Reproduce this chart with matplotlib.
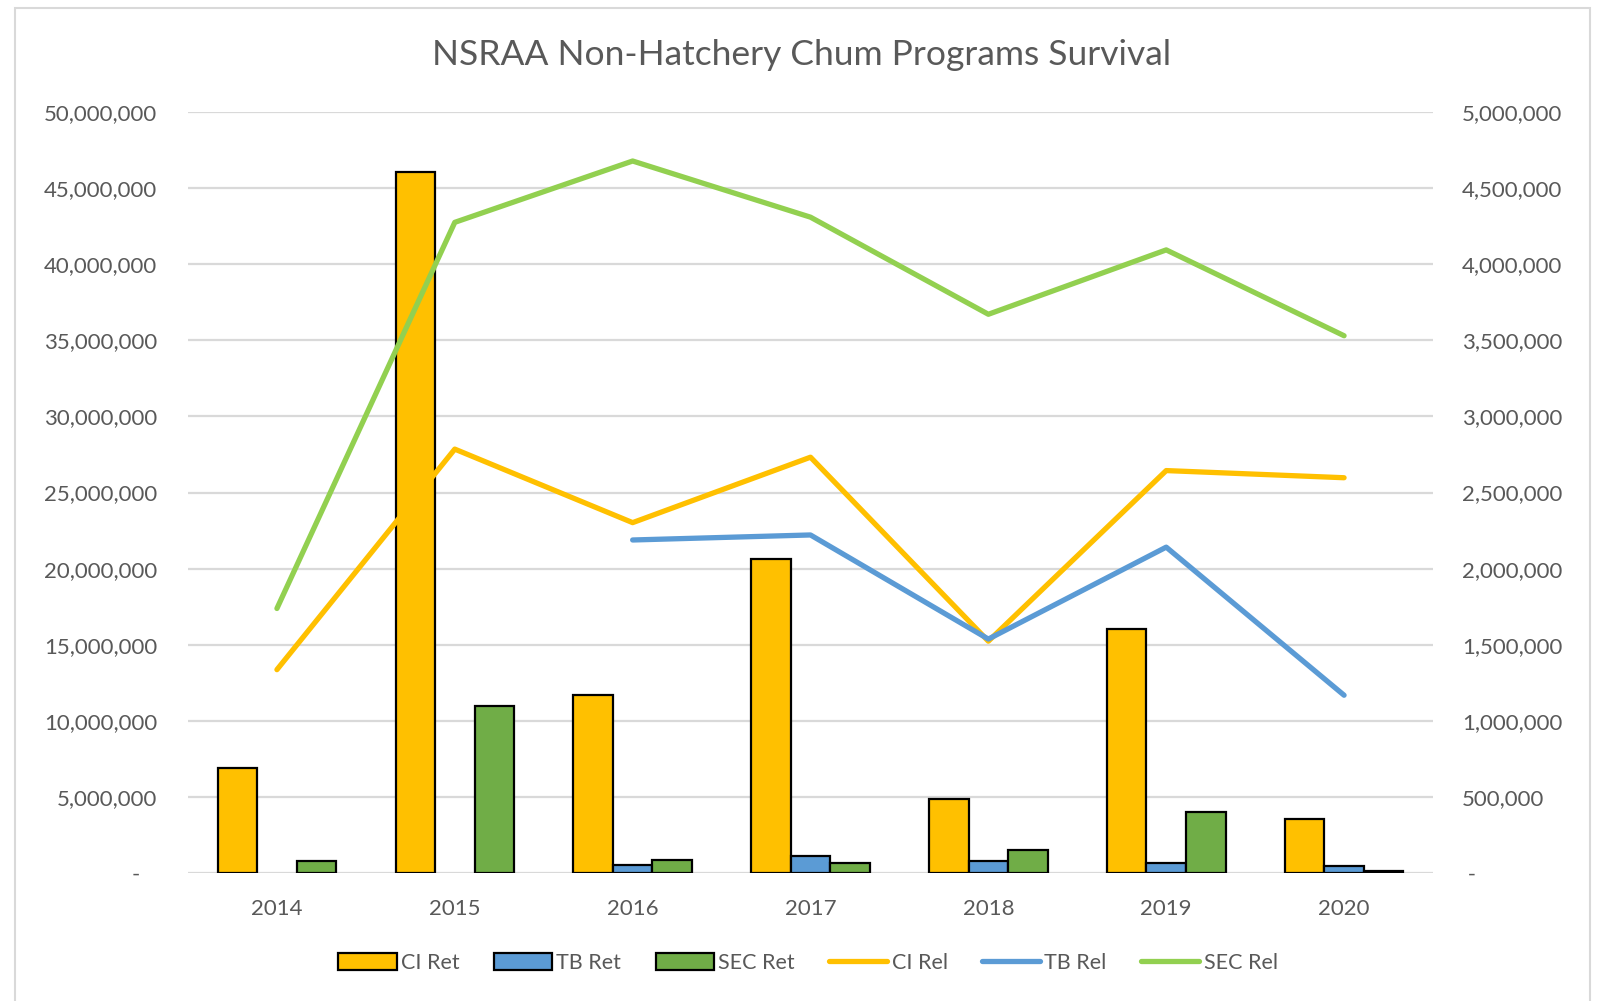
import matplotlib
matplotlib.use("Agg")
import matplotlib.pyplot as plt
from matplotlib.patches import Rectangle
from matplotlib.lines import Line2D
from matplotlib.ticker import FuncFormatter, MultipleLocator
import numpy as np

plt.rcParams['font.family'] = ['Lato', 'DejaVu Sans']

years = ['2014', '2015', '2016', '2017', '2018', '2019', '2020']

# returns (right axis)
ci_ret = [691000, 4604000, 1168000, 2060000, 483000, 1604000, 356000]
tb_ret = [np.nan, np.nan, 54000, 114000, 80000, 67000, 47000]
sec_ret = [80000, 1100000, 87000, 67000, 154000, 403000, 13000]

# releases (left axis)
ci_rel = [13360000, 27850000, 23020000, 27320000, 15230000, 26440000, 25970000]
tb_rel = [np.nan, np.nan, 21880000, 22210000, 15370000, 21410000, 11680000]
sec_rel = [17380000, 42750000, 46780000, 43090000, 36710000, 40940000, 35300000]

yellow = '#FFC000'
blue = '#5B9BD5'
green_bar = '#70AD47'
green_line = '#92D050'
grid_c = '#D9D9D9'
txt_c = '#595959'

fig = plt.figure(figsize=(16.01, 10.01), dpi=100)
ax = fig.add_axes([188/1601, 1 - 873/1001, 1245/1601, 761/1001])
ax2 = ax.twinx()
# bars behind the lines
ax2.set_zorder(ax.get_zorder() - 1)
ax.patch.set_visible(False)

x = np.arange(len(years))
w = 1 / 4.5
ax2.bar(x - w, ci_ret, w, color=yellow, edgecolor='black', linewidth=1.6, zorder=3)
ax2.bar(x, tb_ret, w, color=blue, edgecolor='black', linewidth=1.6, zorder=3)
ax2.bar(x + w, sec_ret, w, color=green_bar, edgecolor='black', linewidth=1.6, zorder=3)

ax.plot(x, ci_rel, color=yellow, lw=3.8, solid_capstyle='round', solid_joinstyle='round')
ax.plot(x, tb_rel, color=blue, lw=3.8, solid_capstyle='round', solid_joinstyle='round')
ax.plot(x, sec_rel, color=green_line, lw=3.8, solid_capstyle='round', solid_joinstyle='round')

ax.set_xlim(-0.5, len(years) - 0.5)
ax.set_ylim(0, 50000000)
ax2.set_ylim(0, 5000000)
ax.yaxis.set_major_locator(MultipleLocator(5000000))
ax2.yaxis.set_major_locator(MultipleLocator(500000))

def fmt_left(v, pos):
    return '-   ' if v == 0 else f'{int(v):,}'

def fmt_right(v, pos):
    return ' -' if v == 0 else f'{int(v):,}'

ax.yaxis.set_major_formatter(FuncFormatter(fmt_left))
ax2.yaxis.set_major_formatter(FuncFormatter(fmt_right))

ax2.grid(axis='y', color=grid_c, lw=1.6, zorder=0)
ax2.set_axisbelow(True)

ax.set_xticks(x)
ax.set_xticklabels(years)

for a in (ax, ax2):
    for s in a.spines.values():
        s.set_visible(False)
    a.tick_params(length=0, labelsize=16, labelcolor=txt_c)
ax.tick_params(axis='y', pad=22)
ax2.tick_params(axis='y', pad=21)
ax.tick_params(axis='x', pad=19)

fig.text(802/1601, 1 - 55/1001, 'NSRAA Non-Hatchery Chum Programs Survival',
         ha='center', va='center', fontsize=25.5, color=txt_c)

handles = [
    Rectangle((0, 0), 1, 1, facecolor=yellow, edgecolor='black', lw=1.6),
    Rectangle((0, 0), 1, 1, facecolor=blue, edgecolor='black', lw=1.6),
    Rectangle((0, 0), 1, 1, facecolor=green_bar, edgecolor='black', lw=1.6),
    Line2D([], [], color=yellow, lw=3.8, solid_capstyle='round'),
    Line2D([], [], color=blue, lw=3.8, solid_capstyle='round'),
    Line2D([], [], color=green_line, lw=3.8, solid_capstyle='round'),
]
labels = ['CI Ret', 'TB Ret', 'SEC Ret', 'CI Rel', 'TB Rel', 'SEC Rel']
leg = fig.legend(handles, labels, loc='center', ncol=6, frameon=False,
                 bbox_to_anchor=(808/1601, 1 - 963/1001), fontsize=15.5,
                 handlelength=2.7, handleheight=0.8, handletextpad=0.2,
                 columnspacing=1.6)
for t in leg.get_texts():
    t.set_color(txt_c)

fig.patches.append(Rectangle((15/1601, -0.01), (1590 - 15)/1601, 1 - 8/1001 + 0.01,
                             transform=fig.transFigure, fill=False,
                             edgecolor=grid_c, lw=1.5))

fig.savefig('out.png', dpi=100)
